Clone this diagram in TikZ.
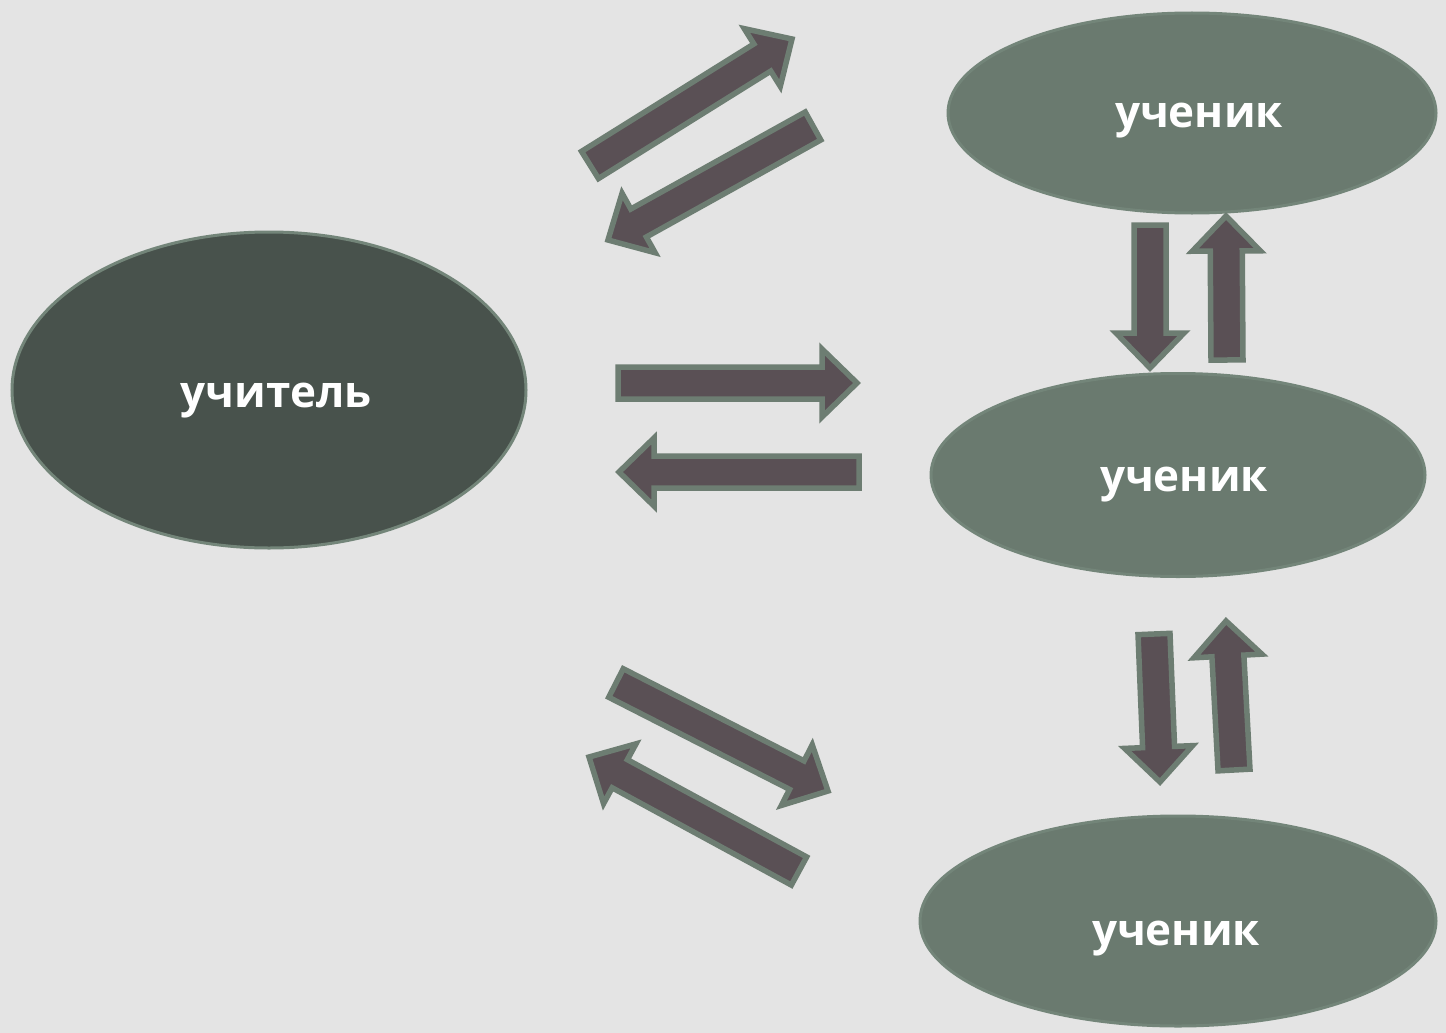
\documentclass[tikz,border=0pt]{standalone}
\usepackage{fontspec}
\setmainfont{Open Sans}
\usetikzlibrary{shapes.geometric}
\definecolor{bgc}{HTML}{E4E4E4}
\definecolor{darkell}{HTML}{48524C}
\definecolor{lightell}{HTML}{6A7A6F}
\definecolor{ellborder}{HTML}{738579}
\definecolor{arrfill}{HTML}{5A5055}
\definecolor{arrborder}{HTML}{6D7D72}
\tikzset{
  ell/.style={ellipse, draw=ellborder, line width=3pt, inner sep=0pt},
  teacher/.style={ell, fill=darkell},
  pupil/.style={ell, fill=lightell},
  lbl/.style={anchor=base, inner sep=0pt, text=white, font=\fontsize{44}{52}\selectfont\bfseries},
  barrowstyle/.style={fill=arrfill, draw=arrborder, line width=5.5pt, line join=miter}
}
\newcommand{\sw}{16}
\newcommand{\hw}{34}
\newcommand{\hl}{35}
\newcommand{\barrow}[4]{%
  \pgfmathsetmacro\bang{atan2(-(#4-#2),#3-#1)}%
  \pgfmathsetmacro\blen{veclen(#3-#1,#4-#2)}%
  \begin{scope}[shift={(#1,#2)},rotate=\bang]
    \draw[barrowstyle] (0,-\sw) -- (\blen-\hl,-\sw) -- (\blen-\hl,-\hw) -- (\blen,0)
      -- (\blen-\hl,\hw) -- (\blen-\hl,\sw) -- (0,\sw) -- cycle;
  \end{scope}}
\begin{document}
\begin{tikzpicture}[x=1pt,y=-1pt]
\useasboundingbox (0,0) rectangle (1446,1033);
\fill[bgc] (0,0) rectangle (1446,1033);
\node[teacher, minimum width=514pt, minimum height=316pt] (t) at (269,390) {};
\node[pupil, minimum width=488pt, minimum height=200pt] (p1) at (1192,113) {};
\node[pupil, minimum width=494pt, minimum height=203pt] (p2) at (1178,475) {};
\node[pupil, minimum width=516pt, minimum height=210pt] (p3) at (1178,921) {};
\node[lbl] (tl) at (276,407) {учитель};
\node[lbl] (p1l) at (1199,127) {ученик};
\node[lbl] (p2l) at (1184,491) {ученик};
\node[lbl] (p3l) at (1176,945) {ученик};
% arrows teacher <-> pupil 1
\barrow{590}{165}{792}{39}
\barrow{813}{126}{608}{240}
% teacher <-> pupil 2
\barrow{618}{383}{857}{383}
\barrow{859}{472}{619}{472}
% teacher <-> pupil 3
\barrow{616}{683}{828}{791}
\barrow{799}{871}{589}{757}
% pupil 1 <-> pupil 2
\barrow{1150}{225}{1150}{368}
\barrow{1227}{360}{1226}{216}
% pupil 2 <-> pupil 3
\barrow{1154}{634}{1160}{782}
\barrow{1234}{770}{1226}{621}
\end{tikzpicture}
\end{document}
